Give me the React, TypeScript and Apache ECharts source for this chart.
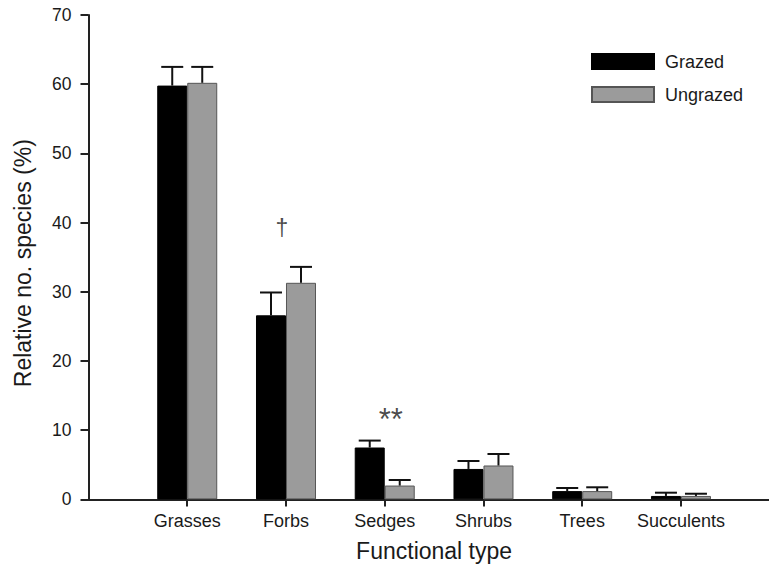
import React, { useEffect, useRef } from "react";
import * as echarts from "echarts";

const categories = ["Grasses", "Forbs", "Sedges", "Shrubs", "Trees", "Succulents"];
const grazed = [59.8, 26.6, 7.5, 4.4, 1.2, 0.5];
const ungrazed = [60.2, 31.3, 2.0, 4.9, 1.2, 0.5];
const grazedErr = [2.7, 3.3, 1.0, 1.15, 0.45, 0.47];
const ungrazedErr = [2.3, 2.3, 0.8, 1.66, 0.55, 0.32];
const yTicks = { min: 0, max: 70, interval: 10 };
const annotationCats = ["Forbs", "Sedges"];
const annotationY = [39.2, 11.6];
const annotationMarks = ["\u2020", "**"];

const PAD_START = "_start";
const PAD_END = "_end";

export default function App() {
  const ref = useRef<HTMLDivElement>(null);

  useEffect(() => {
    document.body.style.margin = "0";
    if (!ref.current) return;
    const chart = echarts.init(ref.current, null, { renderer: "svg" });
    const axisColor = "#222";
    const textColor = "#1a1a1a";
    const xData = [PAD_START, ...categories, PAD_END];

    const errSeries = (name: string, vals: number[], errs: number[], offset: number) => ({
      name,
      type: "custom",
      encode: { x: 0, y: [1, 2] },
      data: categories.map((c, i) => [c, vals[i], vals[i] + errs[i]]),
      renderItem: (params: any, api: any) => {
        const base = api.coord([api.value(0), api.value(1)]);
        const top = api.coord([api.value(0), api.value(2)]);
        const x = base[0] + offset;
        return {
          type: "group",
          children: [
            { type: "line", shape: { x1: x, y1: base[1], x2: x, y2: top[1] }, style: { stroke: "#111", lineWidth: 2 } },
            { type: "line", shape: { x1: x - 11, y1: top[1], x2: x + 11, y2: top[1] }, style: { stroke: "#111", lineWidth: 2 } },
          ],
        };
      },
      z: 3,
    });

    const labelStyles = [
      { offset: [-4, 0], fontSize: 23 },
      { offset: [6, 0], fontSize: 31 },
    ];

    chart.setOption({
      animation: false,
      textStyle: { fontFamily: "'Liberation Sans', Arial, sans-serif" },
      grid: { left: 88.5, top: 15, width: 691.2, height: 484.4, outerBoundsMode: "none" },
      legend: {
        data: [
          { name: "Grazed", icon: "rect" },
          { name: "Ungrazed", icon: "rect" },
        ],
        orient: "vertical",
        left: 586,
        top: 47.5,
        itemWidth: 62,
        itemHeight: 15,
        itemGap: 15,
        textStyle: { fontSize: 18, color: textColor, padding: [0, 0, 0, 6] },
        selectedMode: false,
      },
      xAxis: {
        type: "category",
        data: xData,
        boundaryGap: false,
        axisLine: { lineStyle: { color: axisColor, width: 2 } },
        axisTick: {
          show: true,
          length: 7,
          lineStyle: { color: axisColor, width: 2 },
          interval: (i: number, v: string) => v !== PAD_START && v !== PAD_END,
        },
        axisLabel: {
          interval: 0,
          formatter: (v: string) => (v === PAD_START || v === PAD_END ? "" : v),
          fontSize: 18,
          color: textColor,
          margin: 13,
        },
        splitLine: { show: false },
        name: "Functional type",
        nameLocation: "middle",
        nameGap: 40,
        nameTextStyle: { fontSize: 23, color: textColor },
      },
      yAxis: {
        type: "value",
        min: yTicks.min,
        max: yTicks.max,
        interval: yTicks.interval,
        axisLine: { show: true, lineStyle: { color: axisColor, width: 2 } },
        axisTick: { show: true, length: 8, lineStyle: { color: axisColor, width: 2 } },
        axisLabel: { fontSize: 17.5, color: textColor, margin: 17 },
        splitLine: { show: false },
        name: "Relative no. species (%)",
        nameLocation: "middle",
        nameGap: 54,
        nameTextStyle: { fontSize: 23, color: textColor, padding: [0, 12, 0, 0] },
      },
      series: [
        {
          name: "Grazed",
          type: "bar",
          data: categories.map((c, i) => [c, grazed[i]]),
          barWidth: 30,
          barGap: "0%",
          itemStyle: { color: "#000", borderColor: "#000", borderWidth: 1 },
        },
        {
          name: "Ungrazed",
          type: "bar",
          data: categories.map((c, i) => [c, ungrazed[i]]),
          barWidth: 30,
          barGap: "0%",
          itemStyle: { color: "#9b9b9b", borderColor: "#555", borderWidth: 1 },
        },
        errSeries("errG", grazed, grazedErr, -15),
        errSeries("errU", ungrazed, ungrazedErr, 15),
        {
          name: "marks",
          type: "scatter",
          symbolSize: 0,
          itemStyle: { color: "transparent" },
          data: annotationCats.map((c, i) => ({
            value: [c, annotationY[i], annotationMarks[i]],
            label: labelStyles[i],
          })),
          label: {
            show: true,
            position: "inside",
            formatter: (p: any) => p.value[2],
            color: textColor,
          },
          z: 4,
        },
      ],
    });

    return () => chart.dispose();
  }, []);

  return <div ref={ref} style={{ width: 769, height: 564 }} />;
}
